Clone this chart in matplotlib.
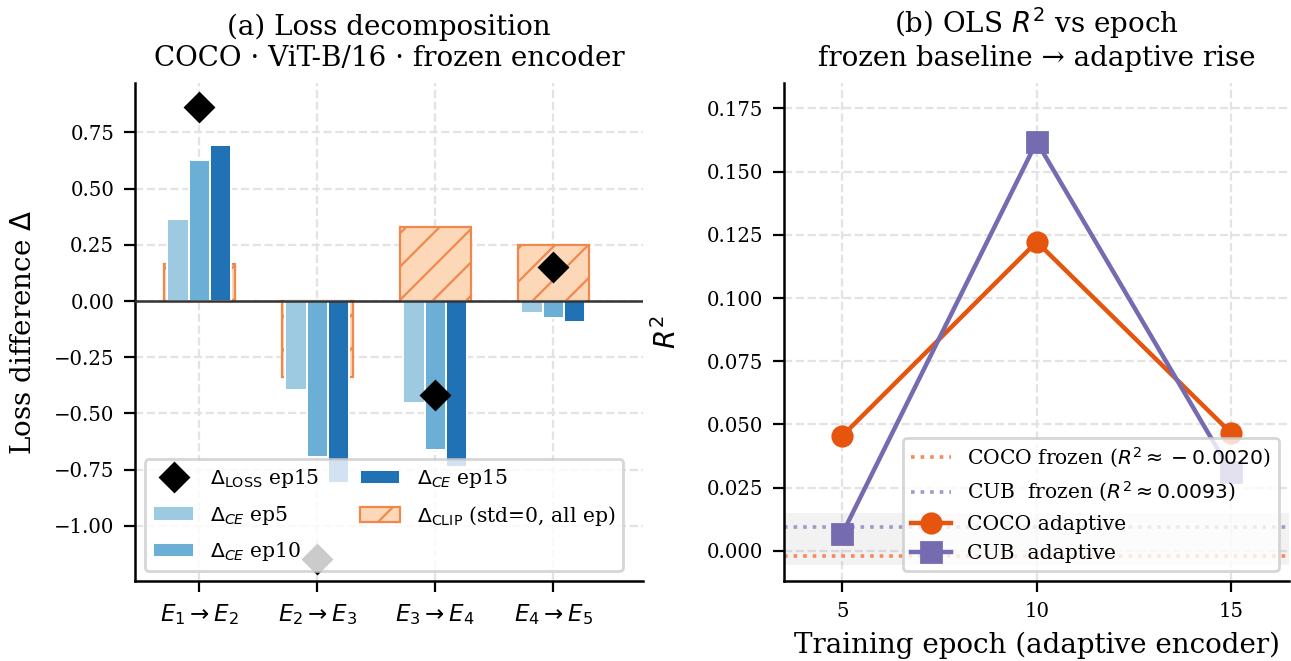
import numpy as np
import matplotlib
matplotlib.use('Agg')
import matplotlib.pyplot as plt

plt.rcParams['font.family'] = ['DejaVu Serif']
plt.rcParams['mathtext.fontset'] = 'dejavusans'
plt.rcParams['hatch.linewidth'] = 0.8

# ---- panel (a) data: loss decomposition (COCO, ViT-B/16, frozen) ----
transitions = [r'$E_1 \rightarrow E_2$', r'$E_2 \rightarrow E_3$',
               r'$E_3 \rightarrow E_4$', r'$E_4 \rightarrow E_5$']
d_clip = [0.165, -0.34, 0.33, 0.25]
d_ce_ep5 = [0.365, -0.395, -0.453, -0.052]
d_ce_ep10 = [0.627, -0.695, -0.663, -0.077]
d_ce_ep15 = [0.695, -0.81, -0.74, -0.092]
d_loss_ep15 = [0.865, -1.15, -0.417, 0.153]

# ---- panel (b) data: OLS R^2 vs epoch ----
epochs = [5, 10, 15]
r2_coco = [0.0455, 0.1222, 0.0466]
r2_cub = [0.0068, 0.1618, 0.0312]
r2_coco_frozen = -0.0020
r2_cub_frozen = 0.0093
frozen_band = (-0.0055, 0.0149)

fig = plt.figure(figsize=(6.455, 3.305), dpi=200)
ax1 = fig.add_axes([0.1046, 0.121, 0.3933, 0.7534])
ax2 = fig.add_axes([0.6073, 0.121, 0.3915, 0.7534])

for ax in (ax1, ax2):
    ax.spines['top'].set_visible(False)
    ax.spines['right'].set_visible(False)
    ax.spines['left'].set_linewidth(0.9)
    ax.spines['bottom'].set_linewidth(0.9)
    ax.tick_params(labelsize=7.1, length=4, width=0.8)
    ax.grid(True, ls='--', lw=0.8, color='#e3e3e3')
    ax.set_axisbelow(True)

# (a)
x = np.arange(len(transitions))
w = 0.18
h_clip = ax1.bar(x, d_clip, 0.6, facecolor='#fdd8b8', edgecolor='#f0884e',
                 hatch='//', lw=0.8, zorder=2,
                 label=r'$\Delta_{\rm CLIP}$ (std=0, all ep)')
h5 = ax1.bar(x - w, d_ce_ep5, w, color='#9ecae1', edgecolor='white', lw=0.7,
             zorder=3, label=r'$\Delta_{CE}$ ep5')
h10 = ax1.bar(x, d_ce_ep10, w, color='#6baed6', edgecolor='white', lw=0.7,
              zorder=3, label=r'$\Delta_{CE}$ ep10')
h15 = ax1.bar(x + w, d_ce_ep15, w, color='#2171b5', edgecolor='white', lw=0.7,
              zorder=3, label=r'$\Delta_{CE}$ ep15')
ax1.axhline(0, color='#333333', lw=0.9, zorder=3.5)
hl, = ax1.plot(x, d_loss_ep15, 'D', color='black', ms=7, ls='none', zorder=4,
               label=r'$\Delta_{\rm LOSS}$ ep15')
ax1.set_xticks(x)
ax1.set_xticklabels(transitions, fontsize=8.3)
ax1.set_xlim(-0.545, 3.76)
ax1.set_ylim(-1.246, 0.97)
ax1.set_yticks([-1.0, -0.75, -0.5, -0.25, 0, 0.25, 0.5, 0.75])
ax1.set_ylabel(r'Loss difference $\Delta$', fontsize=10, labelpad=6)
ax1.set_title('(a) Loss decomposition\nCOCO · ViT-B/16 · frozen encoder', fontsize=10)
leg1 = ax1.legend(handles=[hl, h5, h10, h15, h_clip], ncol=2, loc='lower left',
                  fontsize=7.3, labelspacing=0.65, framealpha=0.8)
leg1.set_zorder(10)

# (b)
ax2.axhspan(*frozen_band, color='0.5', alpha=0.1, lw=0, zorder=1)
ax2.axhline(r2_coco_frozen, color='#f5895a', ls=':', lw=1.3, zorder=2,
            label=r'COCO frozen ($R^2 \approx %.4f$)' % r2_coco_frozen)
ax2.axhline(r2_cub_frozen, color='#9e9ac8', ls=':', lw=1.3, zorder=2,
            label=r'CUB  frozen ($R^2 \approx %.4f$)' % r2_cub_frozen)
ax2.plot(epochs, r2_coco, '-o', color='#e6550d', lw=1.6, ms=7, zorder=3,
         label='COCO adaptive')
ax2.plot(epochs, r2_cub, '-s', color='#756bb1', lw=1.6, ms=7, zorder=3,
         label='CUB  adaptive')
ax2.set_xlim(3.5, 16.5)
ax2.set_ylim(-0.0119, 0.185)
ax2.set_xticks(epochs)
ax2.set_yticks(np.arange(0, 0.176, 0.025))
ax2.set_ylabel(r'$R^2$', fontsize=10, labelpad=9)
ax2.set_xlabel('Training epoch (adaptive encoder)', fontsize=10)
ax2.set_title('(b) OLS $R^2$ vs epoch\nfrozen baseline → adaptive rise', fontsize=10)
leg2 = ax2.legend(loc='lower right', fontsize=7.3, framealpha=0.8)
leg2.set_zorder(10)

fig.savefig('out.png', dpi=200)
